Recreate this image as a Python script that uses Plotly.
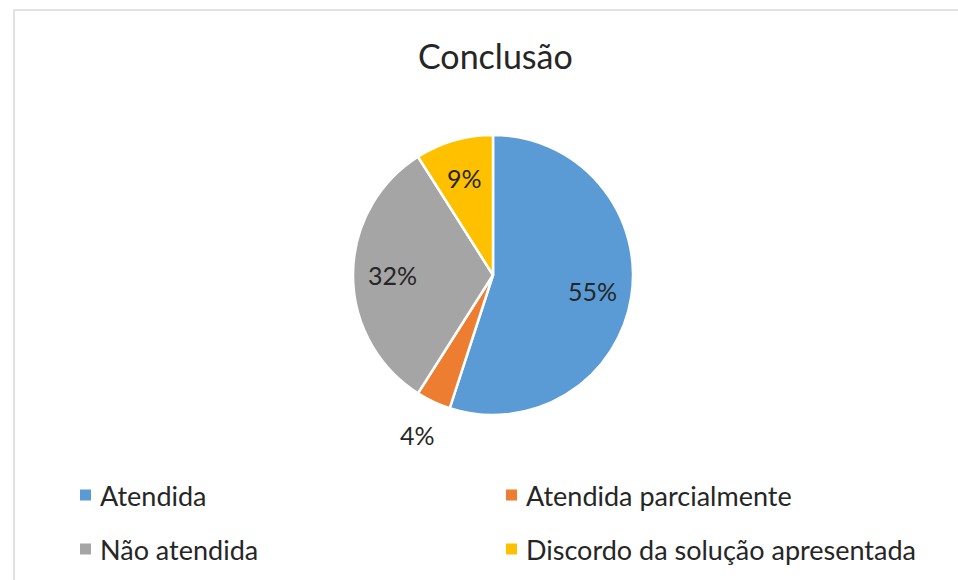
import math
import plotly.graph_objects as go

categories = ["Atendida", "Atendida parcialmente", "Não atendida", "Discordo da solução apresentada"]
values = [55, 4, 32, 9]
colors = ["#5B9BD5", "#ED7D31", "#A5A5A5", "#FFC000"]
label_outside = [False, True, False, False]
title_text = "Conclusão"

W, H = 958, 580
FONT = "Lato"
TXT = "#262626"

cx, cy, R = 493, 275, 140

fig = go.Figure()
fig.add_trace(go.Pie(
    labels=categories,
    values=values,
    sort=False,
    direction="clockwise",
    rotation=0,
    marker=dict(colors=colors, line=dict(color="white", width=2.5)),
    textinfo="none",
    domain=dict(x=[(cx - R) / W, (cx + R) / W], y=[(H - cy - R) / H, (H - cy + R) / H]),
    showlegend=False,
    hoverinfo="label+percent",
))

# data labels, placed at each slice's mid-angle (computed from the values)
total = sum(values)
cum = 0
for v, outside in zip(values, label_outside):
    mid = (cum + v / 2) / total * 2 * math.pi
    cum += v
    r = R * (1.26 if outside else 0.72)
    px = cx + r * math.sin(mid)
    py = cy - r * math.cos(mid)
    fig.add_annotation(text=f"{round(v / total * 100)}%", x=px / W, y=1 - py / H,
                       xref="paper", yref="paper", showarrow=False,
                       xanchor="center", yanchor="middle",
                       font=dict(family=FONT, size=25, color=TXT))

# title
fig.add_annotation(text=title_text, x=495 / W, y=1 - 55 / H, xref="paper", yref="paper",
                   showarrow=False, xanchor="center", yanchor="middle",
                   font=dict(family=FONT, size=34, color=TXT))

# legend (2 columns)
col_x = [80, 506]
row_y = [495, 549]
for i, (name, col) in enumerate(zip(categories, colors)):
    x0 = col_x[i % 2]
    yc = row_y[i // 2]
    fig.add_shape(type="rect", xref="paper", yref="paper",
                  x0=x0 / W, x1=(x0 + 11) / W, y0=1 - (yc + 5.5) / H, y1=1 - (yc - 5.5) / H,
                  fillcolor=col, line=dict(width=0))
    fig.add_annotation(text=name, x=(x0 + 18) / W, y=1 - yc / H, xref="paper", yref="paper",
                       showarrow=False, xanchor="left", yanchor="middle",
                       font=dict(family=FONT, size=27, color=TXT))

# chart border
fig.add_shape(type="rect", xref="paper", yref="paper",
              x0=14 / W, x1=1.05, y0=-0.05, y1=1 - 10 / H,
              line=dict(color="#D9D9D9", width=1.5), fillcolor="rgba(0,0,0,0)", layer="below")

fig.update_layout(
    width=W, height=H,
    margin=dict(l=0, r=0, t=0, b=0),
    paper_bgcolor="white",
    plot_bgcolor="white",
    showlegend=False,
)

fig.write_html("out.html", config={"displayModeBar": False},
               post_script="document.body.style.margin='0px';document.body.style.overflow='hidden';")
